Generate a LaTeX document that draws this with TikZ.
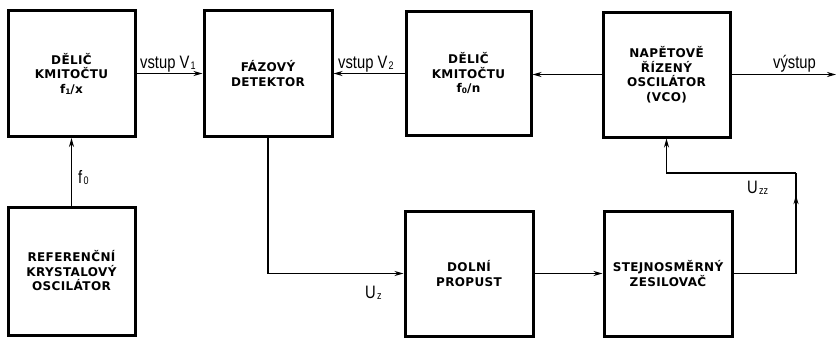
\documentclass[tikz,border=0pt]{standalone}
\usepackage{fontspec}
\setmainfont{Liberation Sans}
\newfontfamily\boxfont[LetterSpace=3]{DejaVu Sans Bold}
\newfontfamily\lblfont[FakeStretch=0.82]{Liberation Sans}
\usetikzlibrary{arrows.meta,decorations.markings}
\tikzset{
  blk/.style={draw, line width=3pt, minimum width=127pt, minimum height=126pt, inner sep=0pt,
    align=center, font=\boxfont\fontsize{12}{14.5}\selectfont},
  conn/.style={line width=1.7pt},
  tip/.style={-{Stealth[length=9pt,width=5pt]}},
  lbl/.style={inner sep=0pt, anchor=base west, font=\lblfont\fontsize{18}{18}\selectfont},
  midtip/.style={postaction={decorate}, decoration={markings, mark=at position #1 with {\arrow{Stealth[length=9pt,width=5pt]}}}}
}
\newcommand{\lsub}[1]{\kern1.2pt\raisebox{-1.5pt}{\fontsize{11}{11}\selectfont #1}}
\newcommand{\bsub}[1]{\raisebox{-1pt}{\fontsize{7.5}{7.5}\selectfont #1}}
\begin{document}
\begin{tikzpicture}[x=1pt,y=-1pt]
\useasboundingbox (0,0) rectangle (836,338);
% boxes
\node[blk] (b1) at (71.5,73.5) {DĚLIČ\\KMITOČTU\\f\bsub{1}/x};
\node[blk, minimum width=128pt] (b2) at (268,73.5) {FÁZOVÝ\\DETEKTOR};
\node[blk, minimum width=125pt, minimum height=124pt] (b3) at (468.5,73) {DĚLIČ\\KMITOČTU\\f\bsub{0}/n};
\node[blk, minimum height=125pt] (b4) at (666.5,74.5) {NAPĚTOVĚ\\ŘÍZENÝ\\OSCILÁTOR\\(VCO)};
\node[blk, minimum height=128pt] (b5) at (71.5,271) {REFERENČNÍ\\KRYSTALOVÝ\\OSCILÁTOR};
\node[blk, minimum width=128pt, minimum height=125pt] (b6) at (469,273.5) {DOLNÍ\\PROPUST};
\node[blk, minimum width=128pt, minimum height=125pt] (b7) at (668,273.5) {STEJNOSMĚRNÝ\\ZESILOVAČ};
% helper coordinates
\coordinate (out) at (836,74.5);
\coordinate (c1) at (796,273.5);
\coordinate (c2) at (796,173);
\coordinate (c3) at (666.5,173);
% connectors
\draw[conn,tip] (b1.east) -- (b2.west |- b1.east);
\draw[conn,tip] (b3.west |- b2.east) -- (b2.east);
\draw[conn,tip] (b4.west) -- (b3.east |- b4.west);
\draw[conn,tip] (b4.east) -- (out);
\draw[conn,tip] (b5.north -| b1.south) -- (b1.south);
\draw[conn,tip] (b2.south) |- (b6.west);
\draw[conn,tip] (b6.east) -- (b7.west);
\draw[conn] (b7.east) -- (c1);
\draw[conn,midtip=0.78] (c1) -- (c2);
\draw[conn,tip] (c2) -- (c3) -- (b4.south);
% labels
\node[lbl] (l1) at (140,68) {vstup V\lsub{1}};
\node[lbl] (l2) at (338,68) {vstup V\lsub{2}};
\node[lbl] (l3) at (773,68) {výstup};
\node[lbl] (l4) at (78,183) {f\lsub{0}};
\node[lbl] (l5) at (365,298) {U\lsub{z}};
\node[lbl] (l6) at (747,193) {U\lsub{zz}};
\end{tikzpicture}
\end{document}
